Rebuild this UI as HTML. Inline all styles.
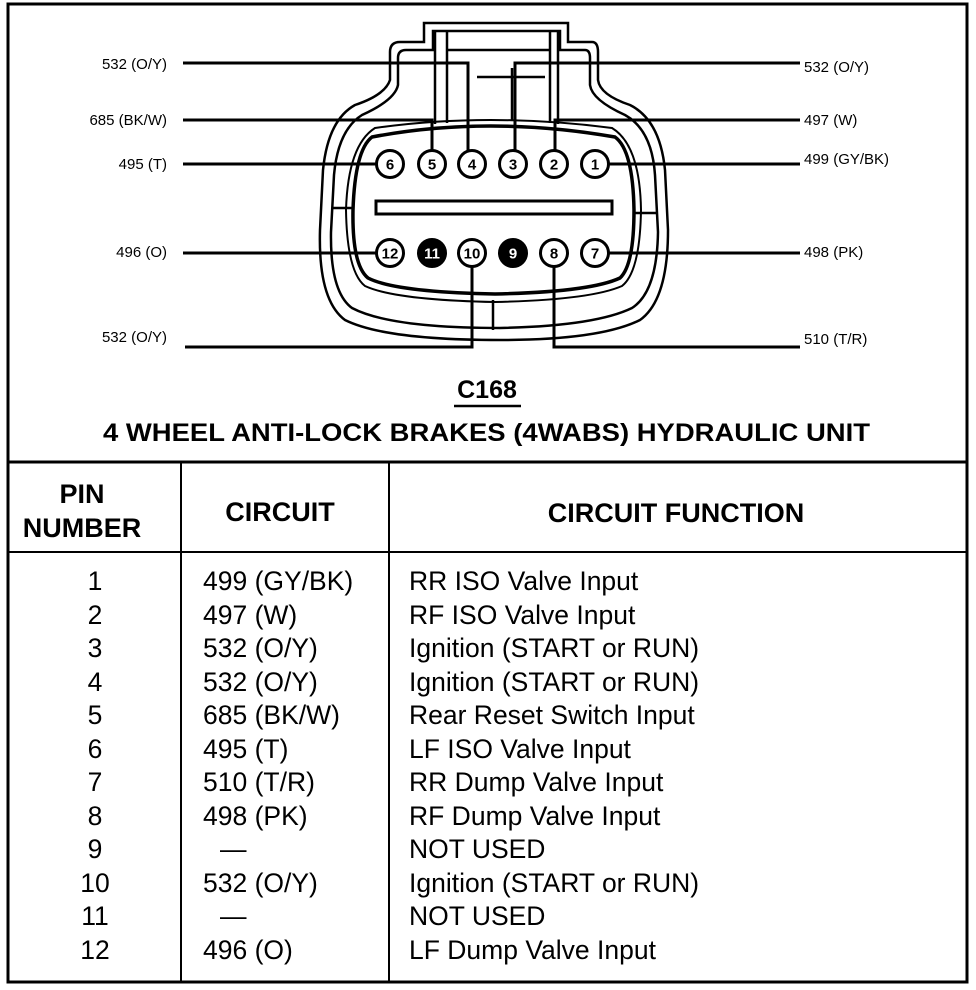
<!DOCTYPE html>
<html><head><meta charset="utf-8"><style>
html,body{margin:0;padding:0;background:#fff;}
svg{display:block;}
text{font-family:"Liberation Sans",Arial,sans-serif;fill:#000;}
</style></head><body>
<svg width="976" height="990" viewBox="0 0 976 990" xmlns="http://www.w3.org/2000/svg">
<rect x="8" y="4" width="959" height="978" fill="none" stroke="#000" stroke-width="3"/>
<line x1="8" y1="462" x2="967" y2="462" stroke="#000" stroke-width="3"/>
<line x1="8" y1="552" x2="967" y2="552" stroke="#000" stroke-width="2"/>
<line x1="181" y1="462" x2="181" y2="982" stroke="#000" stroke-width="2"/>
<line x1="389" y1="462" x2="389" y2="982" stroke="#000" stroke-width="2"/>

<g fill="none" stroke="#000" stroke-width="2.5">
<path d="M424,42 L424,23 L568,23 L568,42 L592,42 Q598,42 598,52 L598,80 Q600,95 630,105 Q660,120 665,170 L668,230 Q668,300 640,320 Q600,340 500,340 Q385,340 345,320 Q318,300 320,230 L323,170 Q328,120 355,105 Q385,95 390,80 L390,52 Q390,42 400,42 Z"/>
<path d="M433,31 L560,31 L560,50 L585,50 Q590,50 590,58 L590,85 Q592,100 625,115 Q652,130 655,175 L658,232 Q657,292 632,308 Q595,326 500,328 Q390,328 352,308 Q330,292 331,232 L334,175 Q338,130 362,115 Q395,100 398,85 L398,58 Q398,50 406,50 L433,50 Z"/>
<path d="M372,137 Q488,115 615,137 Q633,150 634,210 Q634,265 620,278 Q590,292 495,294 Q395,292 368,278 Q352,265 353,210 Q355,150 372,137 Z" stroke-width="3.5"/>
<path d="M375,128 Q488,112 612,128 Q640,145 641,210 Q640,272 622,286 Q590,300 495,302 Q395,300 365,286 Q347,272 346,210 Q348,145 375,128 Z" stroke-width="2"/>
<line x1="435" y1="31" x2="435" y2="124"/><line x1="447" y1="31" x2="447" y2="123"/>
<line x1="550" y1="31" x2="550" y2="123"/><line x1="558" y1="31" x2="558" y2="124"/>
<line x1="447" y1="50" x2="550" y2="50"/>
<line x1="477" y1="77" x2="545" y2="77"/>
<line x1="512" y1="68" x2="512" y2="120"/>
<line x1="333" y1="208" x2="353" y2="208"/><line x1="634" y1="213" x2="657" y2="213"/>
<line x1="493" y1="300" x2="493" y2="330"/>
</g>
<rect x="376" y="201" width="236" height="13" fill="none" stroke="#000" stroke-width="3"/>

<g fill="none" stroke="#000" stroke-width="3">
<polyline points="183,63 468,63 468,151"/>
<polyline points="183,120 432,120 432,151"/>
<line x1="183" y1="164" x2="377" y2="164"/>
<line x1="183" y1="253" x2="377" y2="253"/>
<polyline points="185,347 472,347 472,265"/>
<polyline points="800,63 515,63 515,151"/>
<polyline points="800,120 555,120 555,151"/>
<line x1="608" y1="164" x2="800" y2="164"/>
<line x1="608" y1="253" x2="800" y2="253"/>
<polyline points="800,347 554,347 554,265"/>
</g>

<g stroke="#000" stroke-width="3" fill="#fff">
<circle cx="390" cy="164" r="13.5"/><circle cx="432" cy="164" r="13.5"/><circle cx="472" cy="164" r="13.5"/>
<circle cx="513" cy="164" r="13.5"/><circle cx="554" cy="164" r="13.5"/><circle cx="595" cy="164" r="13.5"/>
<circle cx="390" cy="253" r="13.5"/><circle cx="432" cy="253" r="13.5" fill="#000"/><circle cx="472" cy="253" r="13.5"/>
<circle cx="513" cy="253" r="13.5" fill="#000"/><circle cx="554" cy="253" r="13.5"/><circle cx="595" cy="253" r="13.5"/>
</g>
<g font-size="15" font-weight="bold" text-anchor="middle">
<text x="390" y="169.5">6</text><text x="432" y="169.5">5</text><text x="472" y="169.5">4</text>
<text x="513" y="169.5">3</text><text x="554" y="169.5">2</text><text x="595" y="169.5">1</text>
<text x="390" y="258.5">12</text><text x="432" y="258.5" style="fill:#fff">11</text><text x="472" y="258.5">10</text>
<text x="513" y="258.5" style="fill:#fff">9</text><text x="554" y="258.5">8</text><text x="595" y="258.5">7</text>
</g>

<g font-size="15" text-anchor="end">
<text x="167" y="69">532 (O/Y)</text>
<text x="167" y="125">685 (BK/W)</text>
<text x="167" y="169">495 (T)</text>
<text x="167" y="257">496 (O)</text>
<text x="167" y="342">532 (O/Y)</text>
</g>
<g font-size="15">
<text x="804" y="72">532 (O/Y)</text>
<text x="804" y="125">497 (W)</text>
<text x="804" y="164">499 (GY/BK)</text>
<text x="804" y="257">498 (PK)</text>
<text x="804" y="344">510 (T/R)</text>
</g>

<text x="487" y="398" font-size="25" font-weight="bold" text-anchor="middle">C168</text>
<line x1="454" y1="406" x2="521" y2="406" stroke="#000" stroke-width="2.5"/>
<text x="103" y="441" font-size="25" font-weight="bold" textLength="767" lengthAdjust="spacingAndGlyphs">4 WHEEL ANTI-LOCK BRAKES (4WABS) HYDRAULIC UNIT</text>

<g font-size="27" font-weight="bold" text-anchor="middle">
<text x="82" y="503">PIN</text>
<text x="82" y="537">NUMBER</text>
<text x="280" y="521">CIRCUIT</text>
<text x="676" y="522">CIRCUIT FUNCTION</text>
</g>

<g font-size="26.5">
<g text-anchor="middle">
<text x="95" y="590">1</text><text x="95" y="624">2</text><text x="95" y="657">3</text>
<text x="95" y="691">4</text><text x="95" y="724">5</text><text x="95" y="758">6</text>
<text x="95" y="791">7</text><text x="95" y="825">8</text><text x="95" y="858">9</text>
<text x="95" y="892">10</text><text x="95" y="925">11</text><text x="95" y="959">12</text>
</g>
<text x="203" y="590">499 (GY/BK)</text>
<text x="203" y="624">497 (W)</text>
<text x="203" y="657">532 (O/Y)</text>
<text x="203" y="691">532 (O/Y)</text>
<text x="203" y="724">685 (BK/W)</text>
<text x="203" y="758">495 (T)</text>
<text x="203" y="791">510 (T/R)</text>
<text x="203" y="825">498 (PK)</text>
<text x="220" y="858">—</text>
<text x="203" y="892">532 (O/Y)</text>
<text x="220" y="925">—</text>
<text x="203" y="959">496 (O)</text>

<text x="409" y="590">RR ISO Valve Input</text>
<text x="409" y="624">RF ISO Valve Input</text>
<text x="409" y="657">Ignition (START or RUN)</text>
<text x="409" y="691">Ignition (START or RUN)</text>
<text x="409" y="724">Rear Reset Switch Input</text>
<text x="409" y="758">LF ISO Valve Input</text>
<text x="409" y="791">RR Dump Valve Input</text>
<text x="409" y="825">RF Dump Valve Input</text>
<text x="409" y="858">NOT USED</text>
<text x="409" y="892">Ignition (START or RUN)</text>
<text x="409" y="925">NOT USED</text>
<text x="409" y="959">LF Dump Valve Input</text>
</g>
</svg>
</body></html>
